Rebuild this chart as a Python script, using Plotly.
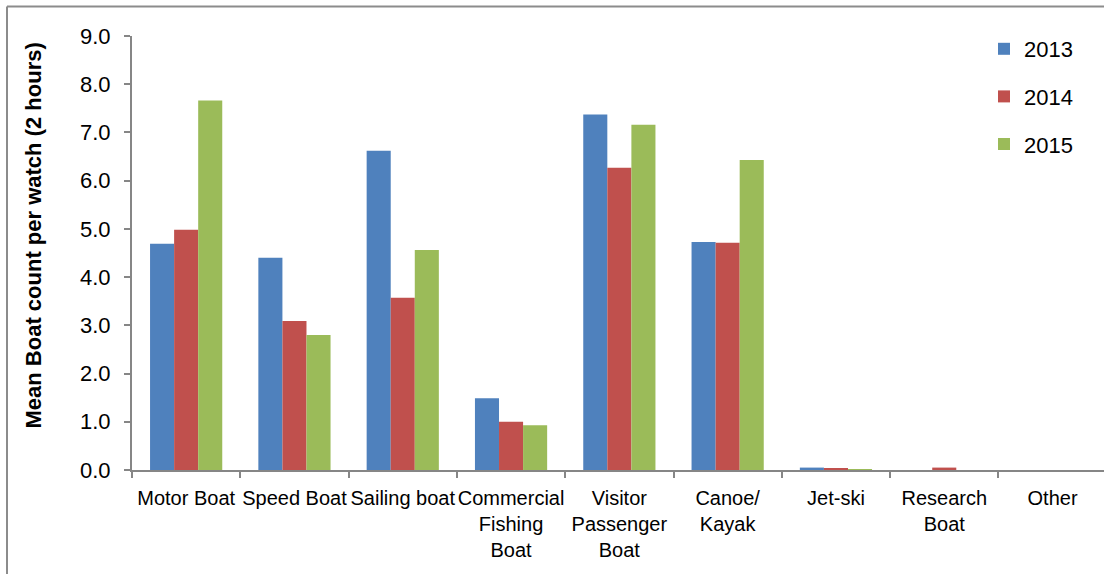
import plotly.graph_objects as go

# Boat categories shown along the x axis (line breaks as printed)
categories = [
    "Motor Boat", "Speed Boat", "Sailing boat", "Commercial<br>Fishing<br>Boat",
    "Visitor<br>Passenger<br>Boat", "Canoe/<br>Kayak", "Jet-ski", "Research<br>Boat", "Other",
]

# Mean boat count per 2-hour watch, by year
counts_2013 = [4.69, 4.40, 6.62, 1.49, 7.37, 4.73, 0.05, 0.00, 0.00]
counts_2014 = [4.98, 3.09, 3.57, 1.00, 6.27, 4.71, 0.03, 0.05, 0.00]
counts_2015 = [7.66, 2.80, 4.56, 0.93, 7.16, 6.43, 0.02, 0.00, 0.00]

years = ["2013", "2014", "2015"]
colors = ["#4F81BD", "#C0504D", "#9BBB59"]

FONT = "Liberation Sans, Arial, sans-serif"
AXIS_GREY = "#868686"

W, H = 1104, 574
ML, MT, MB, MR = 132, 36, 104, 0
plot_w = W - ML - MR
plot_h = H - MT - MB
cat_px = 108.3  # width of one category band

fig = go.Figure()
for year, vals, col in zip(years, [counts_2013, counts_2014, counts_2015], colors):
    fig.add_trace(go.Bar(
        x=categories, y=vals, name=year, legendgroup=year,
        marker=dict(color=col, line=dict(width=0)),
    ))

# outer frame (left and top edges)
fx0 = (7 - ML) / plot_w
fy1 = (H - MB - 6.5) / plot_h
fig.add_shape(type="line", xref="paper", yref="paper", x0=fx0, x1=fx0,
              y0=-MB / plot_h, y1=fy1, line=dict(color="#8C8C8C", width=2))
fig.add_shape(type="line", xref="paper", yref="paper", x0=fx0, x1=(W - ML) / plot_w,
              y0=fy1, y1=fy1, line=dict(color="#8C8C8C", width=2))

fig.add_annotation(
    text="<b>Mean Boat count per watch (2 hours)</b>",
    xref="paper", yref="paper", x=0, y=(H - MB - 236) / plot_h,
    xanchor="center", yanchor="middle", xshift=32.5 - ML,
    textangle=-90, showarrow=False,
    font=dict(family=FONT, size=22, color="#000000"),
)

fig.update_layout(
    width=W, height=H,
    margin=dict(l=ML, r=MR, t=MT, b=MB, pad=0, autoexpand=False),
    paper_bgcolor="white", plot_bgcolor="white",
    barmode="group", bargap=1 / 3, bargroupgap=0,
    font=dict(family=FONT, size=22, color="#000000"),
    showlegend=True,
    legend=dict(
        x=984 / W, y=1 - 28 / H, xref="container", yref="container",
        xanchor="left", yanchor="top",
        traceorder="grouped", tracegroupgap=16,
        font=dict(family=FONT, size=22, color="#000000"),
        bgcolor="rgba(0,0,0,0)",
    ),
    xaxis=dict(
        range=[-0.5, -0.5 + plot_w / cat_px], automargin=False,
        showline=True, linecolor=AXIS_GREY, linewidth=2,
        ticks="outside", tickson="boundaries", ticklen=6, tickcolor=AXIS_GREY, tickwidth=2,
        tickangle=0, showgrid=False, zeroline=False, ticklabelstandoff=9,
        tickfont=dict(family=FONT, size=20, color="#000000"),
    ),
    yaxis=dict(
        range=[0, 9], dtick=1, tickformat=".1f", automargin=False,
        showline=True, linecolor=AXIS_GREY, linewidth=2,
        ticks="outside", ticklen=6, tickcolor=AXIS_GREY, tickwidth=2,
        showgrid=False, zeroline=False, ticklabelstandoff=9,
        tickfont=dict(family=FONT, size=22, color="#000000"),
    ),
)

fig.write_html("out.html")
